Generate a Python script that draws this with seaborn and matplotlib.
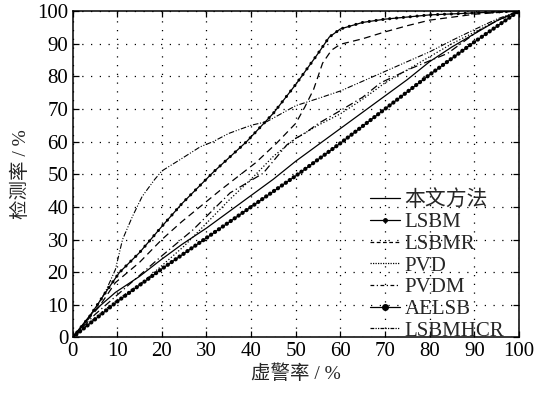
import numpy as np
import pandas as pd
import matplotlib
matplotlib.use("Agg")
import matplotlib.pyplot as plt
from matplotlib.lines import Line2D
import seaborn as sns

sns.set_theme(style="white")
plt.rcParams['font.family'] = ['Liberation Serif', 'Noto Sans CJK SC', 'DejaVu Sans']

# ---- data (false alarm rate %, detection rate %) ----
ours_x = [0, 4.4, 9.6, 15, 20, 24.5, 30, 35, 40, 45, 50, 55, 60, 65, 70, 75, 80, 85, 90, 95, 100]
ours_y = [0, 7.6, 13.8, 18.7, 24, 28.5, 33.5, 38.5, 43.5, 48.5, 54, 59, 64, 69, 74, 79, 84.5, 89, 93, 97, 100]

lsbm_x = [0, 3.8, 7.4, 10.5, 15, 20, 24.5, 31.5, 39, 45, 50, 55, 57.5, 60, 65, 70, 80, 90, 100]
lsbm_y = [0, 6.4, 13.8, 19.9, 26, 34, 41, 50.6, 60, 68.7, 77.5, 87, 92, 94.5, 96.5, 97.5, 98.8, 99.4, 100]

lsbmr_x = [0, 6, 9.6, 15, 20, 24.5, 33, 41, 45.7, 50, 52, 54, 56, 58, 60, 65, 70, 75, 80, 90, 100]
lsbmr_y = [0, 9.5, 16.8, 23, 30, 35.5, 45, 53.5, 59.5, 65.6, 70.5, 76, 84, 88, 89.8, 91.5, 93.6, 95.5, 97.2, 99, 100]

pvd_x = [0, 5, 10, 16.3, 20, 25, 30, 35, 40, 45, 50, 55, 60, 65, 70, 75, 80, 85, 90, 95, 100]
pvd_y = [0, 6, 11.5, 17.6, 22, 28, 35, 42, 48.5, 55.5, 61, 65, 68.5, 73, 78, 82, 86, 90, 93.5, 97, 100]

pvdm_x = [0, 5, 10, 15, 20, 27, 35.3, 42.7, 48, 50, 52, 55, 60, 65, 69, 76, 84, 91, 95, 100]
pvdm_y = [0, 7, 13, 19, 25, 33, 44.3, 50.3, 59, 61, 62.5, 65.5, 69.5, 73.6, 78, 82.5, 87, 94, 97, 100]

aelsb_x = [0, 10, 20, 30, 40, 50, 60, 70, 80, 90, 100]
aelsb_y = [0, 11, 21, 30.5, 40, 49.5, 59.5, 70, 80.5, 90.5, 100]

hcr_x = [0, 2.2, 5.1, 7.4, 9.6, 11.2, 13.4, 15.6, 18.4, 20, 24, 28.6, 31.5, 35, 40, 43.5, 50, 55, 60, 65, 70, 75, 80, 85, 90, 95, 100]
hcr_y = [0, 3.4, 8.6, 14.1, 20.8, 30, 37, 43.2, 48.4, 51, 54.4, 58.4, 60, 62.5, 65, 66.1, 71, 73.2, 75.5, 78.5, 81.5, 84.5, 87.5, 91, 94.3, 97.5, 100]

labels = ['本文方法', 'LSBM', 'LSBMR', 'PVD', 'PVDM', 'AELSB', 'LSBMHCR']
xticks = [0, 10, 20, 30, 40, 50, 60, 70, 80, 90, 100]
yticks = [0, 10, 20, 30, 40, 50, 60, 70, 80, 90, 100]

fig = plt.figure(figsize=(5.38, 3.95), dpi=100)
ax = fig.add_axes([0.1348, 0.1456, 0.8299, 0.8266])

k = 'black'
lw = 0.9
sns.lineplot(x=ours_x, y=ours_y, ax=ax, color=k, lw=lw, sort=False)
sns.lineplot(x=lsbm_x, y=lsbm_y, ax=ax, color=k, lw=lw, sort=False)
sns.lineplot(x=lsbm_x, y=lsbm_y, ax=ax, color=k, lw=2.2, sort=False,
             linestyle=(0, (0.05, 2.2)), dash_capstyle='round')
sns.lineplot(x=lsbmr_x, y=lsbmr_y, ax=ax, color=k, lw=lw, sort=False, linestyle=(0, (5.5, 3.5)))
sns.lineplot(x=pvd_x, y=pvd_y, ax=ax, color=k, lw=lw, sort=False, linestyle=(0, (1, 1.6)))
sns.lineplot(x=pvdm_x, y=pvdm_y, ax=ax, color=k, lw=lw, sort=False, linestyle=(0, (6, 2.5, 1, 2.5)))
sns.lineplot(x=aelsb_x, y=aelsb_y, ax=ax, color=k, lw=0.9, sort=False)
sns.lineplot(x=aelsb_x, y=aelsb_y, ax=ax, color=k, lw=3.0, sort=False,
             linestyle=(0, (0.05, 1.1)), dash_capstyle='round')
sns.lineplot(x=hcr_x, y=hcr_y, ax=ax, color=k, lw=0.8, sort=False,
             linestyle=(0, (5, 1.5, 1, 1.5, 1, 1.5)))

ax.set_xlim(0, 100)
ax.set_ylim(0, 100)
ax.set_xticks(xticks)
ax.set_yticks(yticks)
ax.set_xticklabels([str(t) for t in xticks], fontsize=15)
ax.set_yticklabels([str(t) for t in yticks], fontsize=15)
ax.tick_params(direction='in', length=4, width=0.9, colors='black', pad=3,
               top=True, right=True, bottom=True, left=True)
ax.grid(True, color='black', linestyle=(0, (1, 6)), linewidth=0.9)
for s in ax.spines.values():
    s.set_visible(True)
    s.set_color('black')
    s.set_linewidth(1.1)
ax.set_facecolor('white')

ax.set_xlabel('虚警率 / %', fontsize=14, labelpad=3)
ax.set_ylabel('检测率 / %', fontsize=14, labelpad=5)

handles = [
    Line2D([], [], color=k, lw=lw),
    Line2D([], [], color=k, lw=lw, marker='o', markersize=2.5),
    Line2D([], [], color=k, lw=lw, linestyle=(0, (3, 2))),
    Line2D([], [], color=k, lw=lw, linestyle=(0, (1, 1))),
    Line2D([], [], color=k, lw=lw, linestyle=(0, (3, 2, 1, 2))),
    Line2D([], [], color=k, lw=lw, marker='o', markersize=4),
    Line2D([], [], color=k, lw=lw, linestyle=(0, (3, 1, 1, 1, 1, 1))),
]
leg = ax.legend(handles, labels, loc='lower right', frameon=False, fontsize=15,
                handlelength=1.45, handletextpad=0.2, labelspacing=0.1,
                borderaxespad=0.0, numpoints=1, bbox_to_anchor=(0.985, -0.035))

fig.savefig('out.png', dpi=100, facecolor='white')
